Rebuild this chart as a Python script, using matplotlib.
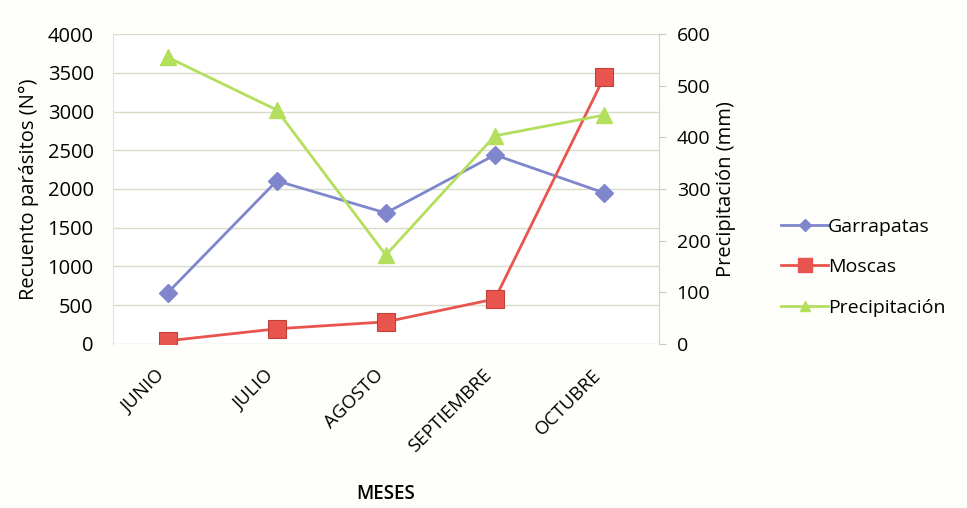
import matplotlib.pyplot as plt
import matplotlib.transforms as mtransforms
from matplotlib.lines import Line2D

plt.rcParams['font.family'] = ['Open Sans', 'DejaVu Sans']

# Monthly counts and rainfall
meses = ["JUNIO", "JULIO", "AGOSTO", "SEPTIEMBRE", "OCTUBRE"]
garrapatas = [660, 2105, 1690, 2440, 1950]
moscas = [40, 195, 285, 580, 3440]
precipitacion = [555, 453, 172, 403, 443]

blue = '#7f86cc'
red = '#e8554e'
green = '#b3df5c'

fig = plt.figure(figsize=(9.67, 5.08), dpi=100, facecolor='#fefefb')
ax = fig.add_axes([0.117, 0.323, 0.564, 0.61])
ax.set_facecolor('white')
x = list(range(len(meses)))

ax.plot(x, garrapatas, color=blue, lw=2, marker='D', ms=9.5, mfc=blue, mec=blue, zorder=3)
ax.plot(x, moscas, color=red, lw=2, marker='s', ms=12.5, mfc=red, mec='#c0403a', mew=0.8, zorder=3)
ax.set_ylim(0, 4000)
ax.set_yticks(range(0, 4001, 500))
ax.set_xlim(-0.5, 4.5)
ax.set_xticks(x)
ax.set_xticklabels(meses, rotation=45, ha='right', rotation_mode='anchor', fontsize=13.5)
ax.tick_params(axis='x', length=0, pad=16)
ax.tick_params(axis='y', length=0, labelsize=14.5, pad=14)
# nudge the slanted month names a little to the left
shift = mtransforms.ScaledTranslation(-0.12, 0, fig.dpi_scale_trans)
for lab in ax.get_xticklabels():
    lab.set_transform(lab.get_transform() + shift)
ax.grid(axis='y', color='#d8dcc8', lw=1)
for s in ['top', 'right', 'bottom']:
    ax.spines[s].set_visible(False)
ax.spines['left'].set_color('#e0e0e0')
ax.set_ylabel('Recuento parásitos (N°)', fontsize=14.5, labelpad=6)
ax.set_xlabel('MESES', fontsize=13.5, fontweight='semibold', labelpad=20)

ax2 = ax.twinx()
ax2.plot(x, precipitacion, color=green, lw=2, marker='^', ms=11, mfc=green, mec=green, zorder=3)
ax2.set_ylim(0, 600)
ax2.set_yticks(range(0, 601, 100))
ax2.tick_params(axis='y', labelsize=14, length=5, color='#c8c8c8', pad=8)
for s in ['top', 'left', 'bottom']:
    ax2.spines[s].set_visible(False)
ax2.spines['right'].set_color('#d0d0d0')
ax2.set_ylabel('Precipitación (mm)', fontsize=14.5, labelpad=4)

handles = [
    Line2D([], [], color=blue, lw=2, marker='D', ms=6),
    Line2D([], [], color=red, lw=2, marker='s', ms=10),
    Line2D([], [], color=green, lw=2, marker='^', ms=7),
]
fig.legend(handles, ['Garrapatas', 'Moscas', 'Precipitación'],
           loc='center left', bbox_to_anchor=(0.79, 0.474), frameon=False,
           fontsize=14, handlelength=2.4, handletextpad=0.0, labelspacing=1.15)

fig.savefig('out.png', dpi=100, facecolor=fig.get_facecolor())
